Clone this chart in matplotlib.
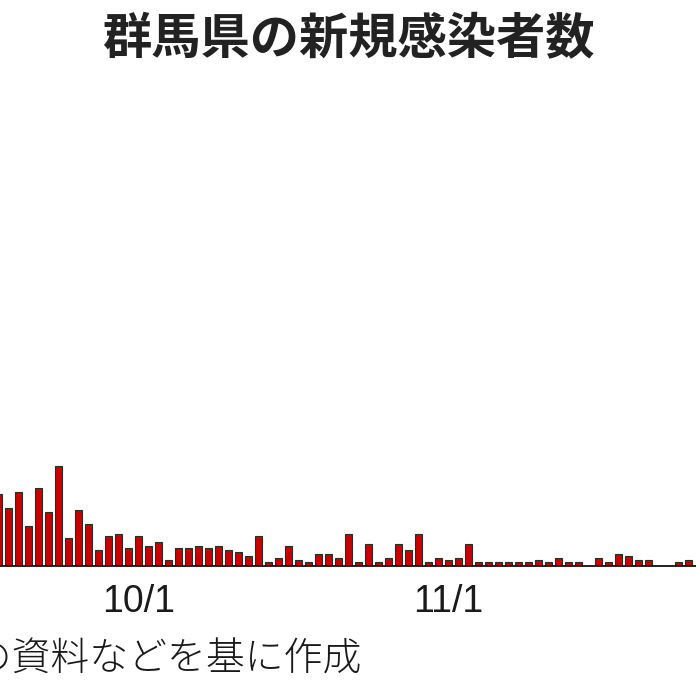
import datetime as dt

import matplotlib
matplotlib.use("Agg")
import matplotlib.pyplot as plt
from matplotlib import font_manager

# -----------------------------
# Data (9/17 onward, daily)
# -----------------------------
start_date = dt.date(2021, 9, 17)
new_cases = [
    36, 29, 37, 20, 39, 27, 50, 14, 28, 21,
    8, 15, 16, 9, 15, 10, 12, 3, 9, 9,
    10, 9, 10, 8, 7, 5, 15, 2, 4, 10,
    3, 2, 6, 6, 4, 16, 2, 11, 2, 4,
    11, 8, 16, 2, 4, 3, 4, 11, 2, 2,
    2, 2, 2, 2, 3, 2, 4, 2, 2, 0,
    4, 2, 6, 5, 3, 3, 0, 0, 2, 3,
]
tick_labels = ["10/1", "11/1"]
title = "群馬県の新規感染者数"
source = "群馬県の資料などを基に作成"

dates = [start_date + dt.timedelta(days=i) for i in range(len(new_cases))]
x = list(range(len(new_cases)))
tick_pos = [dates.index(dt.date(2021, int(t.split("/")[0]), int(t.split("/")[1]))) for t in tick_labels]

# fonts
names = {f.name for f in font_manager.fontManager.ttflist}
tick_font = "Liberation Sans Narrow" if "Liberation Sans Narrow" in names else "Liberation Sans"
cjk = ["Noto Sans CJK JP", "DejaVu Sans"]

# -----------------------------
# Plot
# -----------------------------
W, H = 696, 696
fig = plt.figure(figsize=(W / 100, H / 100), dpi=100)
fig.patch.set_facecolor("white")

base_px = 565.5          # baseline, px from top
ax_top_px = 80.0
px_per_case = 2.0
ax = fig.add_axes([0, (H - base_px) / H, 1, (base_px - ax_top_px) / H])

ax.bar(x, new_cases, width=0.68, color="#c80000", edgecolor="#2a2a2a",
       linewidth=0.8, zorder=2)

ax.set_xlim(0.13, 69.73)
ax.set_ylim(0, (base_px - ax_top_px) / px_per_case)

for s in ["top", "left", "right"]:
    ax.spines[s].set_visible(False)
ax.spines["bottom"].set_linewidth(1.3)
ax.spines["bottom"].set_color("#111111")
ax.spines["bottom"].set_zorder(3)
ax.set_yticks([])
ax.set_xticks(tick_pos)
ax.set_xticklabels(tick_labels, fontfamily=tick_font, fontsize=27, color="#1a1a1a")
ax.tick_params(axis="x", length=0, pad=13)
ax.set_facecolor("none")

fig.text(0.5, 1 - 40 / H, title, ha="center", va="center", fontsize=35.5,
         fontweight="bold", color="#222222", family=cjk)
fig.text(362 / W, 1 - 660 / H, source, ha="right", va="center", fontsize=28,
         fontweight="light", color="#1a1a1a", family=cjk)

fig.savefig("out.png", dpi=100, facecolor="white")
